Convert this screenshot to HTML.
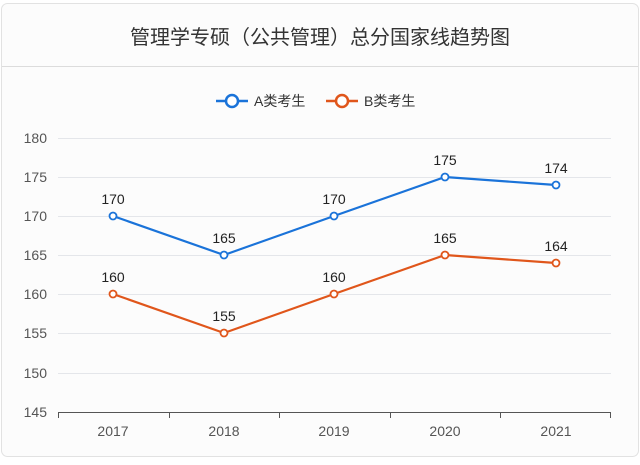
<!DOCTYPE html>
<html><head><meta charset="utf-8"><style>
html,body{margin:0;padding:0;background:#fff;}
body{width:640px;height:460px;overflow:hidden;font-family:"Liberation Sans","Noto Sans CJK SC",sans-serif;}
</style></head><body>
<svg width="640" height="460" xmlns="http://www.w3.org/2000/svg" font-family="Liberation Sans, Noto Sans CJK SC, sans-serif">
<rect x="1.5" y="3.5" width="637" height="453" rx="6" fill="#fcfcfc" stroke="#e2e2e2"/>
<line x1="2" y1="66.5" x2="638" y2="66.5" stroke="#dcdcdc"/>
<text x="320" y="44" text-anchor="middle" font-size="20" fill="#333">管理学专硕（公共管理）总分国家线趋势图</text>
<g font-size="14" fill="#333">
<line x1="216" y1="101" x2="248" y2="101" stroke="#1a73d9" stroke-width="2.5"/>
<circle cx="232" cy="101" r="6" fill="#fff" stroke="#1a73d9" stroke-width="2.5"/>
<text x="254" y="106">A类考生</text>
<line x1="326" y1="101" x2="358" y2="101" stroke="#e0561b" stroke-width="2.5"/>
<circle cx="342" cy="101" r="6" fill="#fff" stroke="#e0561b" stroke-width="2.5"/>
<text x="364" y="106">B类考生</text>
</g>
<g stroke="#e4e6ea" stroke-width="1">
<line x1="58" y1="138.5" x2="611" y2="138.5"/><line x1="58" y1="177.5" x2="611" y2="177.5"/>
<line x1="58" y1="216.5" x2="611" y2="216.5"/><line x1="58" y1="255.5" x2="611" y2="255.5"/>
<line x1="58" y1="294.5" x2="611" y2="294.5"/><line x1="58" y1="333.5" x2="611" y2="333.5"/>
<line x1="58" y1="373.5" x2="611" y2="373.5"/>
</g>
<g font-size="14" fill="#555" text-anchor="end">
<text x="47" y="143">180</text><text x="47" y="182">175</text><text x="47" y="221">170</text>
<text x="47" y="260">165</text><text x="47" y="299">160</text><text x="47" y="338">155</text>
<text x="47" y="378">150</text><text x="47" y="417">145</text>
</g>
<g stroke="#555" stroke-width="1">
<line x1="58" y1="412.5" x2="611" y2="412.5"/>
<line x1="58.5" y1="412" x2="58.5" y2="418"/><line x1="169.5" y1="412" x2="169.5" y2="418"/>
<line x1="279.5" y1="412" x2="279.5" y2="418"/><line x1="390.5" y1="412" x2="390.5" y2="418"/>
<line x1="500.5" y1="412" x2="500.5" y2="418"/><line x1="610.5" y1="412" x2="610.5" y2="418"/>
</g>
<g font-size="14" fill="#555" text-anchor="middle">
<text x="113" y="436">2017</text><text x="224" y="436">2018</text><text x="334" y="436">2019</text>
<text x="445" y="436">2020</text><text x="556" y="436">2021</text>
</g>
<polyline points="113,216 224,255 334,216 445,177 556,185" fill="none" stroke="#1a73d9" stroke-width="2.2"/>
<polyline points="113,294 224,333 334,294 445,255 556,263" fill="none" stroke="#e0561b" stroke-width="2.2"/>
<g fill="#fff" stroke="#1a73d9" stroke-width="1.8">
<circle cx="113" cy="216" r="3.5"/><circle cx="224" cy="255" r="3.5"/><circle cx="334" cy="216" r="3.5"/><circle cx="445" cy="177" r="3.5"/><circle cx="556" cy="185" r="3.5"/>
</g>
<g fill="#fff" stroke="#e0561b" stroke-width="1.8">
<circle cx="113" cy="294" r="3.5"/><circle cx="224" cy="333" r="3.5"/><circle cx="334" cy="294" r="3.5"/><circle cx="445" cy="255" r="3.5"/><circle cx="556" cy="263" r="3.5"/>
</g>
<g font-size="14" fill="#222" text-anchor="middle">
<text x="113" y="204">170</text><text x="224" y="243">165</text><text x="334" y="204">170</text><text x="445" y="165">175</text><text x="556" y="173">174</text>
<text x="113" y="282">160</text><text x="224" y="321">155</text><text x="334" y="282">160</text><text x="445" y="243">165</text><text x="556" y="251">164</text>
</g>
</svg>
</body></html>
